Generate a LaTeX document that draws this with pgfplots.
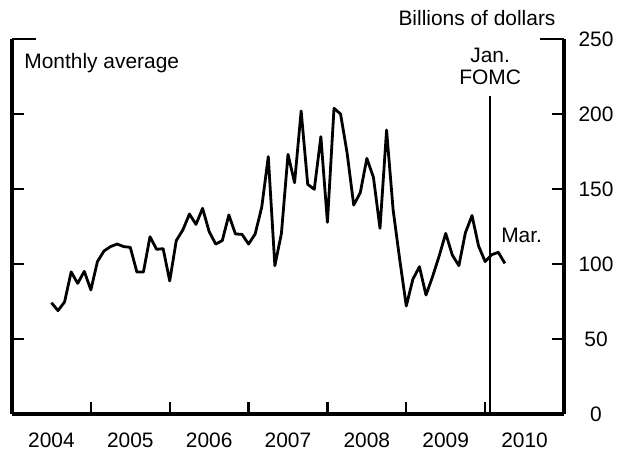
\documentclass[border=0pt]{standalone}
\usepackage{pgfplots}
\pgfplotsset{compat=1.18}
\usepackage{fontspec}
\setmainfont{Liberation Sans}

% monthly average, x = month count from Jan 2004 (end of month)
\pgfplotstableread{
m v
6 74.2
7 68.9
8 74.7
9 94.7
10 87.1
11 95.1
12 82.7
13 101.6
14 108.7
15 111.6
16 113.3
17 111.6
18 111.1
19 94.7
20 94.7
21 118.2
22 109.8
23 110.2
24 88.7
25 115.6
26 122.7
27 133.3
28 126.4
29 137.1
30 121.6
31 113.3
32 115.6
33 132.7
34 120.0
35 119.8
36 113.3
37 120.0
38 137.8
39 171.6
40 98.9
41 120.4
42 173.1
43 154.2
44 202.0
45 153.1
46 149.8
47 184.9
48 127.8
49 203.8
50 200.0
51 173.8
52 139.3
53 147.6
54 170.4
55 157.8
56 123.8
57 189.3
58 136.0
59 103.0
60 72.0
61 89.8
62 98.2
63 79.3
64 91.6
65 105.3
66 120.4
67 106.0
68 98.9
69 120.9
70 132.3
71 112.0
72 101.6
73 106.2
74 107.8
75 100.4
}\monthly

\begin{document}
\begin{tikzpicture}[font=\fontsize{10.5}{12}\selectfont]
\begin{axis}[
    name=ax,
    scale only axis,
    width=276bp, height=187.5bp,
    xmin=0, xmax=84, ymin=0, ymax=250,
    axis x line*=bottom,
    axis y line*=box,
    axis line style={line width=1.6bp, -},
    tick align=inside,
    major tick length=6bp,
    every tick/.style={black, line width=1.2bp},
    xtick={12,24,...,72},
    xticklabels={},
    extra x ticks={6,18,...,78},
    extra x tick labels={2004,2005,2006,2007,2008,2009,2010},
    extra x tick style={major tick length=0pt},
    ytick={0,50,...,200},
    extra y ticks={250},
    extra y tick style={major tick length=12bp},
    ytick pos=both,
    yticklabel pos=right,
    tick label style={font=\fontsize{10.5}{12}\selectfont},
    xticklabel style={anchor=center, yshift=-13bp},
    yticklabel style={anchor=center, xshift=16bp},
    /pgf/number format/assume math mode=true,
    clip=false,
]
\addplot[black, line width=1.4bp, line join=round] table[x=m, y=v] {\monthly};
\addplot[black, line width=0.6bp] coordinates {(72.75,0) (72.75,212)};

\node[anchor=base west, inner sep=0] at (axis cs:1.83,230.5) {Monthly average};
\node[anchor=center, inner sep=0] at (axis cs:70.76,264) {Billions of dollars};
\node[align=center, inner sep=0, font=\fontsize{10.5}{11}\selectfont] at (axis cs:72.75,232) {Jan.\\FOMC};
\node[anchor=base west, inner sep=0] at (axis cs:74.4,114) {Mar.};
\end{axis}
\pgfresetboundingbox
\path[use as bounding box] ([xshift=-6bp,yshift=-18.5bp]ax.south west) rectangle ([xshift=27bp,yshift=19.5bp]ax.north east);
\end{tikzpicture}
\end{document}
